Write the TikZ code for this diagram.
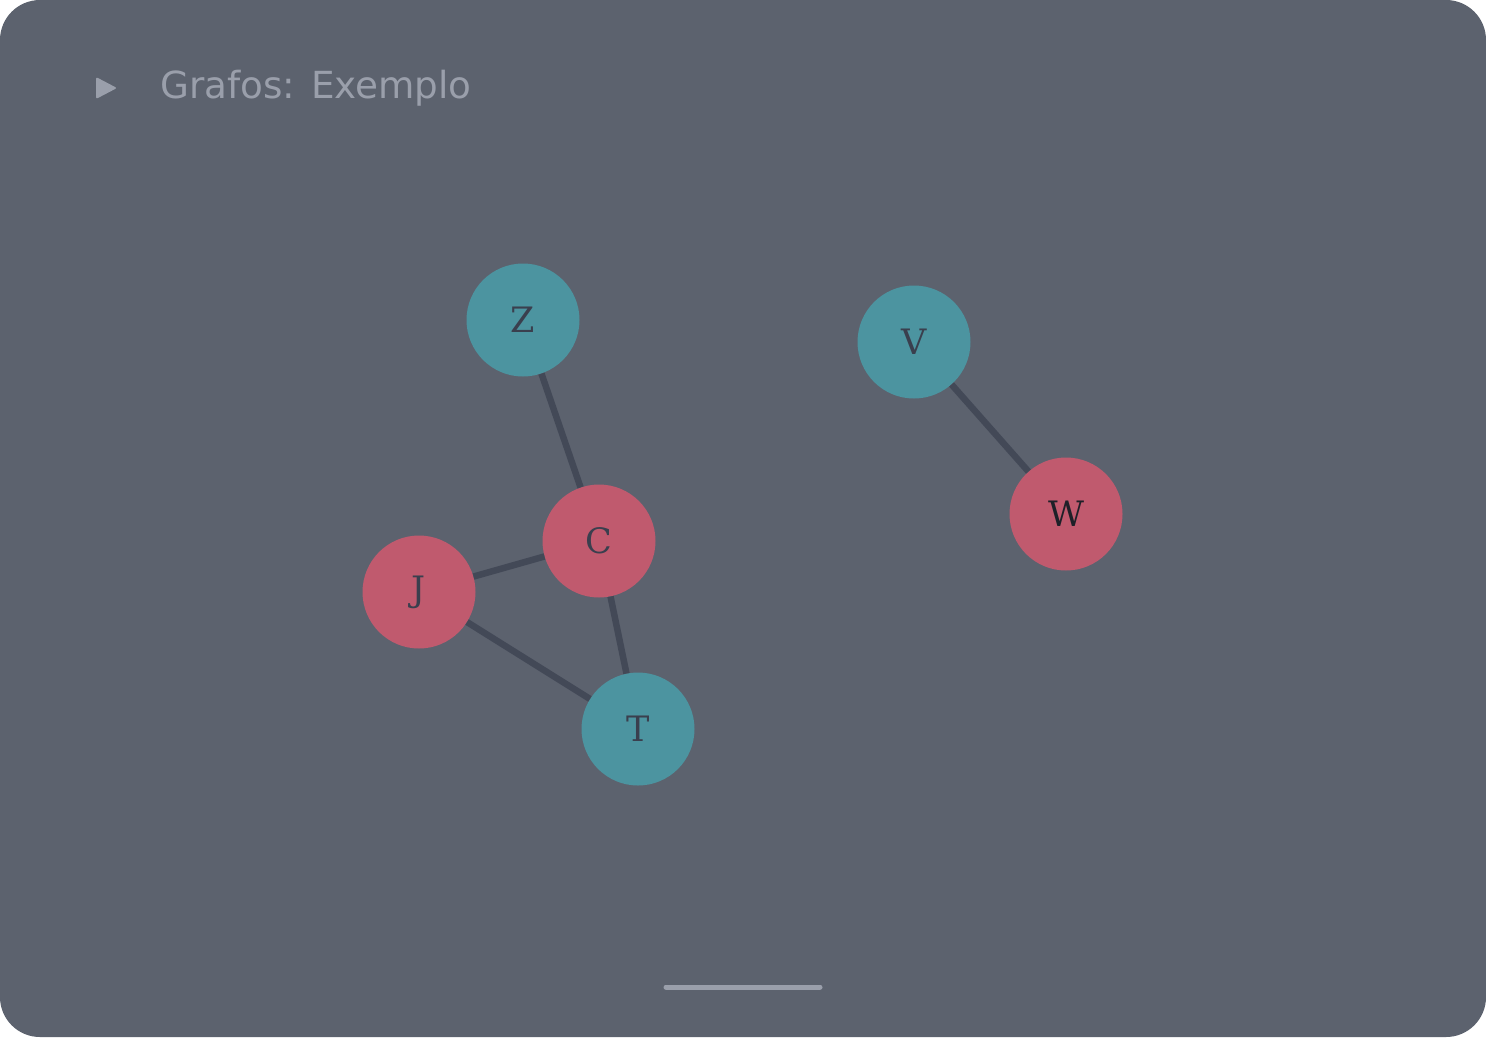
\documentclass[tikz,border=0pt]{standalone}
\usepackage{fontspec}
\setmainfont{DejaVu Serif}
\newfontfamily\titlefont{DejaVu Sans}
\definecolor{bgc}{HTML}{5C626E}
\definecolor{tealc}{HTML}{4C94A0}
\definecolor{redc}{HTML}{C05A6E}
\definecolor{edgec}{HTML}{434957}
\definecolor{labc}{HTML}{3A3F4E}
\definecolor{labw}{HTML}{1E2028}
\definecolor{greyc}{HTML}{9A9FAB}
\tikzset{
  vnode/.style={circle, minimum size=113pt, inner sep=0pt, font=\fontsize{35}{35}\selectfont, text=labc},
  tealnode/.style={vnode, fill=tealc},
  rednode/.style={vnode, fill=redc},
  edge/.style={draw=edgec, line width=6.5pt},
}
\begin{document}
\begin{tikzpicture}[x=1pt,y=-1pt]
\useasboundingbox (0,0) rectangle (1486,1037);
\fill[white] (0,0) rectangle (1486,1037);
\fill[bgc, rounded corners=40pt] (0,0) rectangle (1486,1037);
% title
\fill[greyc, rounded corners=2pt] (96,77) -- (96,99) -- (117,88) -- cycle;
\node[anchor=base west, inner sep=0pt, text=greyc, font=\titlefont\fontsize{37.3}{37.3}\selectfont] (title) at (160,98) {Grafos: Exemplo};
% nodes
\node[tealnode] (Z) at (523,320) {Z};
\node[tealnode] (V) at (914,342) {V};
\node[rednode] (C) at (599,541) {C};
\node[rednode] (J) at (419,592) {J};
\node[tealnode] (T) at (638,729) {T};
\node[rednode, text=labw] (W) at (1066,514) {W};
% edges
\draw[edge] (Z) -- (C);
\draw[edge] (J) -- (C);
\draw[edge] (C) -- (T);
\draw[edge] (J) -- (T);
\draw[edge] (V) -- (W);
% bottom bar
\coordinate (b1) at (666,987);
\coordinate (b2) at (820,987);
\draw[greyc, line width=5pt, line cap=round] (b1) -- (b2);
\end{tikzpicture}
\end{document}
